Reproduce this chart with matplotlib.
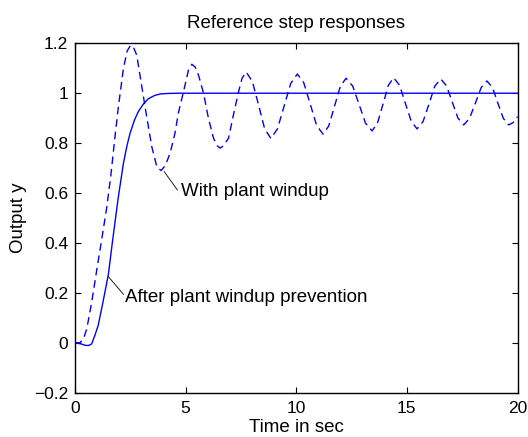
import matplotlib
matplotlib.use("Agg")
import matplotlib.pyplot as plt

# solid: after plant windup prevention
t_prev = [0, 0.25, 0.45, 0.6, 0.75, 0.9, 1.05, 1.28, 1.51, 1.70, 1.96, 2.19,
          2.35, 2.49, 2.70, 2.86, 3.10, 3.32, 3.60, 3.85, 4.2, 4.6, 20]
y_prev = [0, -0.004, -0.01, -0.011, -0.005, 0.03, 0.07, 0.17, 0.275, 0.41,
          0.585, 0.72, 0.79, 0.84, 0.895, 0.926, 0.958, 0.978, 0.991, 0.997,
          0.999, 1.0, 1.0]

# dashed: with plant windup
t_wind = [0, 0.23, 0.40, 0.53, 0.75, 0.98, 1.20, 1.43, 1.62, 1.80, 1.96, 2.19,
          2.36, 2.52, 2.66, 2.79, 3.02, 3.24, 3.47, 3.70, 3.89, 4.08, 4.30,
          4.52, 4.67, 4.90, 5.13, 5.28, 5.43, 5.58, 5.81, 6.03, 6.26, 6.42,
          6.56, 6.72, 6.94, 7.16, 7.39, 7.55, 7.74, 8.02, 8.30, 8.57, 8.85,
          9.15, 9.45, 9.75, 10.05, 10.34, 10.63, 10.92, 11.21, 11.47, 11.73,
          11.99, 12.25, 12.55, 12.84, 13.13, 13.43, 13.67, 13.92, 14.16, 14.40,
          14.67, 14.93, 15.20, 15.46, 15.73, 16.00, 16.26, 16.53, 16.79, 17.05,
          17.31, 17.57, 17.83, 18.10, 18.36, 18.62, 18.87, 19.11, 19.36, 19.60,
          19.80, 20.0]
y_wind = [0, 0.0, 0.02, 0.055, 0.16, 0.29, 0.41, 0.54, 0.67, 0.82, 0.945, 1.10,
          1.17, 1.193, 1.18, 1.153, 1.026, 0.906, 0.786, 0.705, 0.69, 0.71, 0.76,
          0.84, 0.92, 1.005, 1.093, 1.116, 1.105, 1.073, 1.0, 0.9, 0.82, 0.79,
          0.78, 0.79, 0.82, 0.913, 1.005, 1.06, 1.085, 1.046, 0.952, 0.858, 0.819,
          0.857, 0.948, 1.039, 1.077, 1.042, 0.957, 0.871, 0.836, 0.869, 0.948,
          1.027, 1.06, 1.029, 0.955, 0.880, 0.849, 0.880, 0.956, 1.031, 1.062,
          1.032, 0.960, 0.887, 0.857, 0.886, 0.957, 1.028, 1.057, 1.030, 0.965,
          0.900, 0.873, 0.899, 0.961, 1.023, 1.049, 1.023, 0.961, 0.899, 0.873,
          0.882, 0.906]

# annotation leader lines (curve point -> text) and text anchors
lead_wind = ([4.03, 4.63], [0.686, 0.612])
lead_prev = ([1.51, 2.19], [0.265, 0.194])

plt.rcParams["font.family"] = ["Liberation Sans", "DejaVu Sans"]
plt.rcParams["font.size"] = 12.5

fig = plt.figure(figsize=(5.28, 4.37), dpi=100)
ax = fig.add_axes([75 / 528, 1 - 392.7 / 437, 442.5 / 528, 349.4 / 437])

ax.plot(t_prev, y_prev, color="#0000ff", lw=1.0)
ax.plot(t_wind, y_wind, color="#0000ff", lw=1.0, dashes=(5.5, 3.5))

ax.plot(*lead_wind, color="black", lw=0.6)
ax.plot(*lead_prev, color="black", lw=0.6)
ax.text(4.78, 0.608, "With plant windup", va="center", ha="left",
        fontsize=13.5)
ax.text(2.26, 0.183, "After plant windup prevention", va="center",
        ha="left", fontsize=13.5)

ax.set_xlim(0, 20)
ax.set_ylim(-0.2, 1.2)
ax.set_xticks([0, 5, 10, 15, 20])
ax.set_yticks([-0.2, 0, 0.2, 0.4, 0.6, 0.8, 1.0, 1.2])
ax.set_yticklabels(["\u22120.2", "0", "0.2", "0.4", "0.6", "0.8", "1", "1.2"])
ax.tick_params(direction="in", top=True, right=True, length=4, width=0.8)
ax.tick_params(axis="x", pad=6)
ax.tick_params(axis="y", pad=5)
for s in ax.spines.values():
    s.set_linewidth(1.0)

ax.set_title("Reference step responses", pad=11, fontsize=13.5)
ax.set_xlabel("Time in sec", labelpad=2, fontsize=13.5)
ax.set_ylabel("Output y", labelpad=5, fontsize=13.5)

fig.savefig("out.png", dpi=100)
